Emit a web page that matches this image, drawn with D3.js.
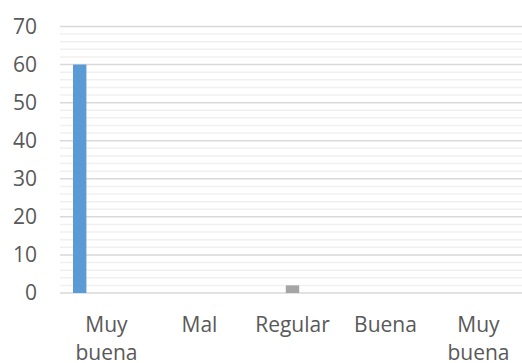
<!DOCTYPE html>
<html>
<head>
<meta charset="utf-8">
<script src="https://cdn.jsdelivr.net/npm/d3@7"></script>
<style>
  body { margin: 0; background: #fff; }
  svg { display: block; }
</style>
</head>
<body>
<div id="chart"></div>
<script>
// data
var categories = ["Muy buena", "Mal", "Regular", "Buena", "Muy buena"];
var seriesNames = ["S1", "S2", "S3", "S4", "S5"];
var seriesColors = ["#5b9bd5", "#ed7d31", "#a5a5a5", "#ffc000", "#4472c4"];
// values[s][c] : series s, category c
var values = [
    [60, 0, 0, 0, 0],
    [0, 0, 0, 0, 0],
    [0, 0, 2, 0, 0],
    [0, 0, 0, 0, 0],
    [0, 0, 0, 0, 0]
];
var yTicks = [0, 10, 20, 30, 40, 50, 60, 70];
var yMinorTicks = d3.range(0, 71, 2);

var chartW = 522, chartH = 363;
var plotLeft = 60, plotRight = 525, plotTop = 26.5, plotBottom = 293;

//Make an SVG Container
var svg = d3.select("#chart").append("svg")
    .attr("width", chartW)
    .attr("height", chartH);

var x = d3.scaleBand()
    .domain(d3.range(categories.length))
    .range([plotLeft, plotRight]);

var xInner = d3.scaleBand()
    .domain(seriesNames)
    .range([0, x.bandwidth()])
    .paddingOuter(0.97);

var y = d3.scaleLinear()
    .domain([0, 70])
    .range([plotBottom, plotTop]);

// minor gridlines
svg.append("g").selectAll("line")
    .data(yMinorTicks.filter(function (d) { return d % 10 !== 0; }))
    .enter().append("line")
    .attr("x1", plotLeft).attr("x2", plotRight)
    .attr("y1", function (d) { return y(d); })
    .attr("y2", function (d) { return y(d); })
    .attr("stroke", "#f0f0f0")
    .attr("stroke-width", 1.5);

// major gridlines
svg.append("g").selectAll("line")
    .data(yTicks)
    .enter().append("line")
    .attr("x1", plotLeft).attr("x2", plotRight)
    .attr("y1", function (d) { return y(d); })
    .attr("y2", function (d) { return y(d); })
    .attr("stroke", "#d9d9d9")
    .attr("stroke-width", 1.5);

// bars
seriesNames.forEach(function (s, si) {
    svg.append("g").selectAll("rect")
        .data(values[si])
        .enter().append("rect")
        .attr("x", function (d, i) { return x(i) + xInner(s); })
        .attr("width", xInner.bandwidth())
        .attr("y", function (d) { return y(d); })
        .attr("height", function (d) { return y(0) - y(d); })
        .attr("fill", seriesColors[si]);
});

// y axis
var yAxis = d3.axisLeft(y)
    .tickValues(yTicks)
    .tickSize(0)
    .tickPadding(0);

var gy = svg.append("g")
    .attr("transform", "translate(37,0)")
    .call(yAxis);
gy.select(".domain").remove();
gy.selectAll("text")
    .attr("font-family", "Open Sans, sans-serif")
    .attr("font-size", 21)
    .attr("fill", "#595959");

// x labels (wrapped)
var gx = svg.append("g");
categories.forEach(function (c, i) {
    var words = c.split(" ");
    var t = gx.append("text")
        .attr("font-family", "Open Sans, sans-serif")
        .attr("font-size", 21)
        .attr("fill", "#595959")
        .attr("text-anchor", "middle")
        .attr("x", x(i) + x.bandwidth() / 2)
        .attr("y", 332);
    words.forEach(function (w, wi) {
        t.append("tspan")
            .attr("x", x(i) + x.bandwidth() / 2)
            .attr("dy", wi === 0 ? 0 : 28)
            .text(w);
    });
});
</script>
</body>
</html>
